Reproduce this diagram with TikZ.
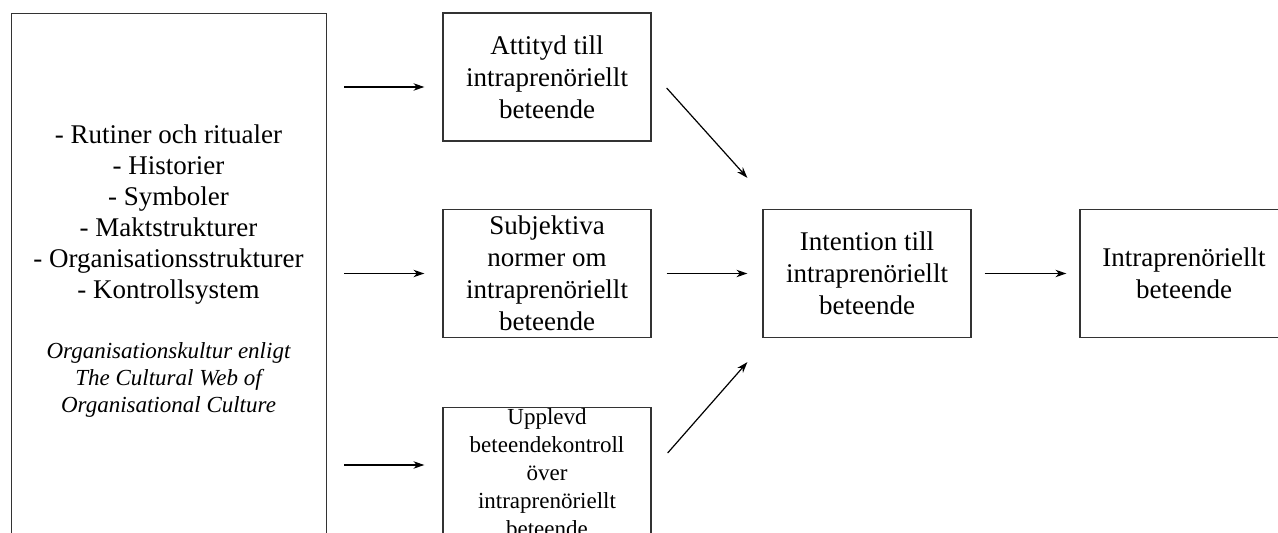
\documentclass[tikz,border=0pt]{standalone}
\usepackage{fontspec}
\setmainfont{Liberation Serif}
\usetikzlibrary{arrows.meta}

\tikzset{
    ruta/.style={draw=black!80, line width=1.3pt, rectangle, inner sep=1pt, align=center, minimum width=208pt, minimum height=128pt, font=\fontsize{27}{32}\selectfont},
    pil/.style={line width=1.2pt, -{Stealth[length=11pt,width=7.5pt]}, shorten <=15pt, shorten >=15pt}
}

\begin{document}
\begin{tikzpicture}[x=1pt,y=1pt]
        \useasboundingbox (0,0) rectangle (1278,533);
        \clip (0,0) rectangle (1278,533);
        % organisationskultur
        \node[ruta, anchor=north west, minimum width=315pt, minimum height=600pt] (kultur) at (11,520) {};
        \node[align=center, font=\fontsize{27}{31}\selectfont] (lista) at (168.5,318) {- Rutiner och ritualer\\- Historier\\- Symboler\\- Maktstrukturer\\- Organisationsstrukturer\\- Kontrollsystem};
        \node[align=center, font=\fontsize{23}{27}\selectfont\itshape] (web) at (168.5,153) {Organisationskultur enligt\\The Cultural Web of\\Organisational Culture};
        % planerat beteende
        \node[ruta] (attityd) at (547,456) {Attityd till\\intraprenöriellt\\beteende};
        \node[ruta] (normer) at (547,259.5) {Subjektiva\\normer om\\intraprenöriellt\\beteende};
        \node[ruta, anchor=north, minimum height=160pt] (kontroll) at (547,126) {};
        \node[anchor=north, inner sep=0pt, align=center, font=\fontsize{23}{28}\selectfont] (kontrolltext) at ([yshift=-1pt]kontroll.north) {Upplevd\\beteendekontroll\\över\\intraprenöriellt\\beteende};
        \node[ruta] (intention) at (867,259.5) {Intention till\\intraprenöriellt\\beteende};
        \node[ruta] (beteende) at (1184,259.5) {Intraprenöriellt\\beteende};
        % pilar
        \draw[pil, shorten <=17pt, shorten >=18pt] ([yshift=-10pt]kultur.east |- attityd.west) -- ([yshift=-10pt]attityd.west);
        \draw[pil, shorten <=17pt, shorten >=18pt] (kultur.east |- normer.west) -- (normer.west);
        \draw[pil, shorten <=17pt, shorten >=18pt] ([yshift=-58pt]kultur.east |- kontroll.north west) -- ([yshift=-58pt]kontroll.north west);
        \draw[pil, shorten <=0pt, shorten >=0pt] ([xshift=15pt,yshift=-11pt]attityd.east) -- ([xshift=-15pt,yshift=31pt]intention.north west);
        \draw[pil] (normer.east) -- (intention.west);
        \draw[pil, shorten <=0pt, shorten >=0pt] ([xshift=16pt,yshift=-46pt]kontroll.north east) -- ([xshift=-15pt,yshift=-24pt]intention.south west);
        \draw[pil, shorten <=13pt, shorten >=13pt] (intention.east) -- (beteende.west);
\end{tikzpicture}
\end{document}
